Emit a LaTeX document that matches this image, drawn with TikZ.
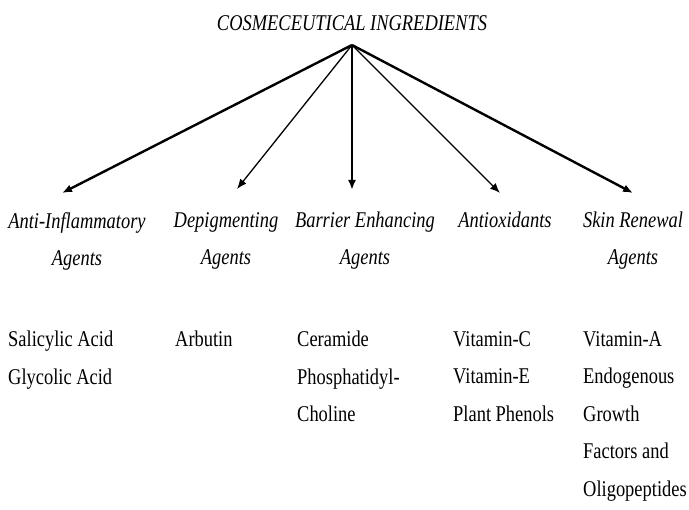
\documentclass[tikz,border=0pt]{standalone}
\usepackage{fontspec}
\setmainfont{Liberation Serif}[FakeStretch=0.82]
\usetikzlibrary{positioning,arrows.meta}
\tikzset{
  branch/.style={draw=black,-{Latex[length=10pt,width=8pt]}},
  heavy/.style={branch,line width=2.4pt},
  light/.style={branch,line width=1.3pt},
  heading/.style={font=\fontsize{22.5}{27}\selectfont\itshape,inner sep=0pt},
  group/.style={font=\fontsize{22.5}{37}\selectfont\itshape,align=center,inner sep=0pt,anchor=north},
  item/.style={font=\fontsize{22.5}{37.5}\selectfont,align=left,inner sep=0pt,anchor=north west}
}

\begin{document}
\begin{tikzpicture}[x=1pt,y=-1pt]
      \useasboundingbox (0,0) rectangle (689,510);
      \node[heading] (head) at (352,23) {COSMECEUTICAL INGREDIENTS};
      \coordinate (apex) at (352,45);
      \coordinate (tipAI) at (62,193);
      \coordinate (tipDP) at (237,189);
      \coordinate (tipBE) at (352,190);
      \coordinate (tipAO) at (500,193);
      \coordinate (tipSR) at (633,193);
      \node[group] (antiinf) at (77,212) {Anti-Inflammatory\\Agents};
      \node[group] (depig) at (226,212) {Depigmenting\\Agents};
      \node[group] (barrier) at (365,212) {Barrier Enhancing\\Agents};
      \node[group] (antiox) at (505,212) {Antioxidants};
      \node[group] (renewal) at (633,212) {Skin Renewal\\Agents};
      \node[item] (listAI) at (8,331) {Salicylic Acid\\Glycolic Acid};
      \node[item] (listDP) at (175,331) {Arbutin};
      \node[item] (listBE) at (297,331) {Ceramide\\Phosphatidyl-\\Choline};
      \node[item] (listAO) at (453,331) {Vitamin-C\\Vitamin-E\\Plant Phenols};
      \node[item] (listSR) at (583,331) {Vitamin-A\\Endogenous\\Growth\\Factors and\\Oligopeptides};
      \draw[heavy] (apex) -- (tipAI);
      \draw[light] (apex) -- (tipDP);
      \draw[heavy] (apex) -- (tipBE);
      \draw[light] (apex) -- (tipAO);
      \draw[heavy] (apex) -- (tipSR);
    \end{tikzpicture}
\end{document}
